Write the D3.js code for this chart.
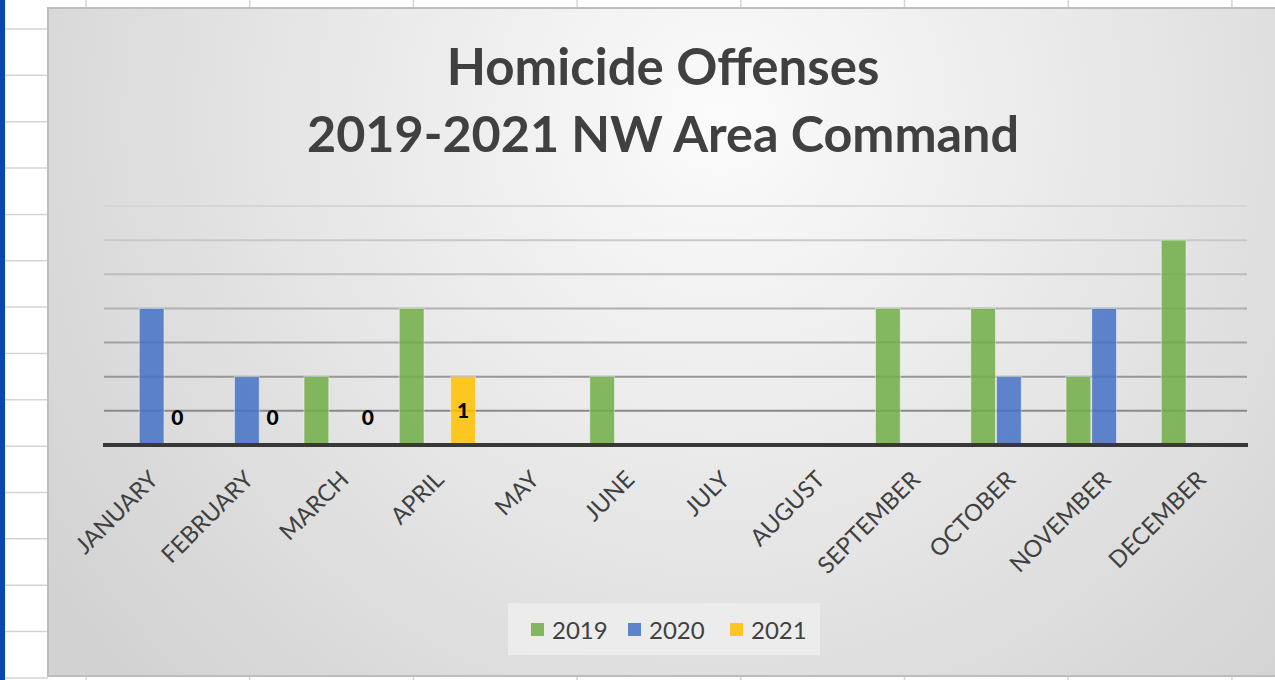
<!DOCTYPE html>
<html>
<head>
<meta charset="utf-8">
<script src="https://cdn.jsdelivr.net/npm/d3@7"></script>
<style>
  html, body { margin: 0; padding: 0; background: #fff; }
  svg { display: block; }
</style>
</head>
<body>
<div id="chart"></div>
<script>
// chart data
var months = ["JANUARY", "FEBRUARY", "MARCH", "APRIL", "MAY", "JUNE", "JULY", "AUGUST", "SEPTEMBER", "OCTOBER", "NOVEMBER", "DECEMBER"];
var years = ["2019", "2020", "2021"];
var v2019 = [0, 0, 1, 2, 0, 1, 0, 0, 2, 2, 1, 3];
var v2020 = [2, 1, 0, 0, 0, 0, 0, 0, 0, 1, 2, 0];
var v2021 = [0, 0, 0, 1, null, null, null, null, null, null, null, null];
var gridTicks = [0.5, 1, 1.5, 2, 2.5, 3, 3.5];
var colors = ["#70AD47", "#4472C4", "#FFC000"];

var w = 1275;
var h = 680;

var svg = d3.select("#chart")
  .append("svg")
  .attr("width", w)
  .attr("height", h);

// spreadsheet behind the chart
var sheet = svg.append("g");
sheet.append("rect").attr("x", 0).attr("y", 0).attr("width", 5).attr("height", h).attr("fill", "#0a46b0");
d3.range(29, h, 46.35).forEach(function(y){
  sheet.append("line")
    .attr("x1", 5).attr("x2", 48).attr("y1", y).attr("y2", y)
    .attr("stroke", "#d4d4d4").attr("stroke-width", 1.5);
});
d3.range(86, w, 163.7).forEach(function(x){
  sheet.append("line")
    .attr("x1", x).attr("x2", x).attr("y1", 0).attr("y2", h)
    .attr("stroke", "#d4d4d4").attr("stroke-width", 1.5);
});

// chart area background
var defs = svg.append("defs");
var grad = defs.append("radialGradient")
  .attr("id", "bg")
  .attr("gradientUnits", "userSpaceOnUse")
  .attr("cx", 720).attr("cy", 120).attr("r", 820);
grad.append("stop").attr("offset", "0%").attr("stop-color", "#fbfbfb");
grad.append("stop").attr("offset", "100%").attr("stop-color", "#d2d2d2");

svg.append("rect")
  .attr("x", 48).attr("y", 8)
  .attr("width", 1240).attr("height", 668)
  .attr("fill", "url(#bg)")
  .attr("stroke", "#bdbdbd")
  .attr("stroke-width", 2);

// title
var title = svg.append("text")
  .attr("text-anchor", "middle")
  .attr("font-family", "Lato, 'Open Sans', sans-serif")
  .attr("font-weight", "bold")
  .attr("fill", "#404040");
title.append("tspan").attr("x", 663).attr("y", 85).attr("font-size", 51).text("Homicide Offenses");
title.append("tspan").attr("x", 663).attr("y", 152).attr("font-size", 50.3).text("2019-2021 NW Area Command");

// scales
var x0 = d3.scaleBand()
  .domain(months)
  .range([104, 1247])
  .paddingInner(0.19)
  .paddingOuter(0.095);

var x1 = d3.scaleBand()
  .domain(years)
  .range([0, x0.bandwidth()]);

var y = d3.scaleLinear()
  .domain([0, 3.5])
  .range([445, 206]);

var gridColor = d3.scaleLinear()
  .domain([0.5, 3.5])
  .range(["#8a8a8a", "#d6d6d6"]);

// gridlines
svg.append("g")
  .selectAll("line")
  .data(gridTicks)
  .enter()
  .append("line")
  .attr("x1", 104).attr("x2", 1247)
  .attr("y1", function(d){ return y(d); })
  .attr("y2", function(d){ return y(d); })
  .attr("stroke", function(d){ return gridColor(d); })
  .attr("stroke-width", 2);

// bars
var rows = months.map(function(m, i){
  return {month: m, vals: [v2019[i], v2020[i], v2021[i]]};
});

var groups = svg.append("g")
  .selectAll("g")
  .data(rows)
  .enter()
  .append("g")
  .attr("transform", function(d){ return "translate(" + x0(d.month) + ",0)"; });

groups.selectAll("rect")
  .data(function(d){
    return d.vals.map(function(v, k){ return {year: years[k], value: v, k: k}; });
  })
  .enter()
  .filter(function(d){ return d.value; })
  .append("rect")
  .attr("x", function(d){ return x1(d.year) + 0.5; })
  .attr("width", x1.bandwidth() - 1)
  .attr("y", function(d){ return y(d.value); })
  .attr("height", function(d){ return y(0) - y(d.value); })
  .attr("fill", function(d){ return colors[d.k]; })
  .attr("fill-opacity", 0.85)
  .attr("stroke", "#ffffff")
  .attr("stroke-opacity", 0.45)
  .attr("stroke-width", 1);

// data labels for 2021
groups.selectAll("text.lbl")
  .data(function(d){
    return d.vals[2] === null ? [] : [{year: "2021", value: d.vals[2]}];
  })
  .enter()
  .append("text")
  .attr("class", "lbl")
  .attr("x", function(d){ return x1(d.year) + x1.bandwidth() / 2; })
  .attr("y", function(d){ return Math.min(y(d.value / 2), y(0) - 27); })
  .attr("dy", "0.35em")
  .attr("text-anchor", "middle")
  .attr("font-family", "Lato, sans-serif")
  .attr("font-weight", "900")
  .attr("font-size", 21)
  .attr("fill", "#000")
  .text(function(d){ return d.value; });

// axis baseline
svg.append("line")
  .attr("x1", 103).attr("x2", 1248)
  .attr("y1", y(0)).attr("y2", y(0))
  .attr("stroke", "#383838")
  .attr("stroke-width", 4);

// category labels
svg.append("g")
  .selectAll("text")
  .data(months)
  .enter()
  .append("text")
  .attr("text-anchor", "end")
  .attr("transform", function(d){
    return "translate(" + (x0(d) + x0.bandwidth() / 2 + 8) + "," + 481 + ") rotate(-45)";
  })
  .attr("font-family", "Lato, 'Open Sans', sans-serif")
  .attr("font-size", 23.5)
  .attr("fill", "#404040")
  .text(function(d){ return d; });

// legend
var legend = svg.append("g");
legend.append("rect")
  .attr("x", 508).attr("y", 603)
  .attr("width", 312).attr("height", 52)
  .attr("fill", "#ececec");
var legendX = [531, 628, 730];
years.forEach(function(yr, k){
  legend.append("rect")
    .attr("x", legendX[k]).attr("y", 623)
    .attr("width", 13).attr("height", 13)
    .attr("fill", colors[k])
    .attr("fill-opacity", 0.85);
  legend.append("text")
    .attr("x", legendX[k] + 21).attr("y", 639)
    .attr("font-family", "Lato, 'Open Sans', sans-serif")
    .attr("font-size", 24)
    .attr("fill", "#404040")
    .text(yr);
});
</script>
</body>
</html>
